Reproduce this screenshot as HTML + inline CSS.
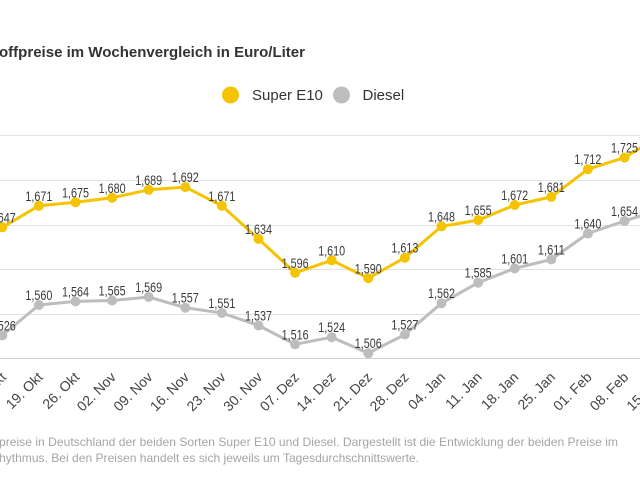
<!DOCTYPE html>
<html>
<head>
<meta charset="utf-8">
<style>
html,body{margin:0;padding:0;background:#fff;}
body{width:640px;height:480px;overflow:hidden;}
svg{display:block;}
text{font-family:"Liberation Sans",sans-serif;}
</style>
</head>
<body>
<svg width="640" height="480" viewBox="0 0 640 480" xmlns="http://www.w3.org/2000/svg">
<rect width="640" height="480" fill="#fff"/>
<!-- title -->
<text x="-1" y="57" font-size="15" font-weight="bold" fill="#333" textLength="306" lengthAdjust="spacingAndGlyphs">offpreise im Wochenvergleich in Euro/Liter</text>
<!-- legend -->
<circle cx="230.5" cy="95" r="8.5" fill="#F5C400"/>
<text x="252" y="100" font-size="15" fill="#333">Super E10</text>
<circle cx="341.5" cy="95" r="8.5" fill="#BDBDBD"/>
<text x="362.5" y="100" font-size="15" fill="#333">Diesel</text>
<!-- gridlines -->
<g stroke="#e2e2e2" stroke-width="1">
<line x1="0" x2="640" y1="135.5" y2="135.5"/>
<line x1="0" x2="640" y1="180.5" y2="180.5"/>
<line x1="0" x2="640" y1="225.5" y2="225.5"/>
<line x1="0" x2="640" y1="269.5" y2="269.5"/>
<line x1="0" x2="640" y1="314.5" y2="314.5"/>
</g>
<line x1="0" x2="640" y1="358.5" y2="358.5" stroke="#d0d0d0" stroke-width="1"/>
<!-- Diesel -->
<polyline fill="none" stroke="#BDBDBD" stroke-width="3" stroke-linejoin="round" points="2.3,335.4 38.9,305.0 75.5,301.4 112.1,300.5 148.7,297.0 185.3,307.7 221.9,313.0 258.5,325.5 295.1,344.3 331.7,337.2 368.3,353.2 404.9,334.5 441.5,303.2 478.1,282.7 514.7,268.4 551.3,259.4 587.9,233.5 624.5,221.0 661.1,209.4"/>
<g fill="#BDBDBD">
<circle cx="2.3" cy="335.4" r="5"/><circle cx="38.9" cy="305.0" r="5"/><circle cx="75.5" cy="301.4" r="5"/><circle cx="112.1" cy="300.5" r="5"/><circle cx="148.7" cy="297.0" r="5"/><circle cx="185.3" cy="307.7" r="5"/><circle cx="221.9" cy="313.0" r="5"/><circle cx="258.5" cy="325.5" r="5"/><circle cx="295.1" cy="344.3" r="5"/><circle cx="331.7" cy="337.2" r="5"/><circle cx="368.3" cy="353.2" r="5"/><circle cx="404.9" cy="334.5" r="5"/><circle cx="441.5" cy="303.2" r="5"/><circle cx="478.1" cy="282.7" r="5"/><circle cx="514.7" cy="268.4" r="5"/><circle cx="551.3" cy="259.4" r="5"/><circle cx="587.9" cy="233.5" r="5"/><circle cx="624.5" cy="221.0" r="5"/>
</g>
<!-- E10 -->
<polyline fill="none" stroke="#F5C400" stroke-width="3" stroke-linejoin="round" points="2.3,227.3 38.9,205.8 75.5,202.3 112.1,197.8 148.7,189.8 185.3,187.1 221.9,205.8 258.5,238.9 295.1,272.8 331.7,260.3 368.3,278.2 404.9,257.7 441.5,226.4 478.1,220.1 514.7,205.0 551.3,196.9 587.9,169.2 624.5,157.6 661.1,135.3"/>
<g fill="#F5C400">
<circle cx="2.3" cy="227.3" r="5"/><circle cx="38.9" cy="205.8" r="5"/><circle cx="75.5" cy="202.3" r="5"/><circle cx="112.1" cy="197.8" r="5"/><circle cx="148.7" cy="189.8" r="5"/><circle cx="185.3" cy="187.1" r="5"/><circle cx="221.9" cy="205.8" r="5"/><circle cx="258.5" cy="238.9" r="5"/><circle cx="295.1" cy="272.8" r="5"/><circle cx="331.7" cy="260.3" r="5"/><circle cx="368.3" cy="278.2" r="5"/><circle cx="404.9" cy="257.7" r="5"/><circle cx="441.5" cy="226.4" r="5"/><circle cx="478.1" cy="220.1" r="5"/><circle cx="514.7" cy="205.0" r="5"/><circle cx="551.3" cy="196.9" r="5"/><circle cx="587.9" cy="169.2" r="5"/><circle cx="624.5" cy="157.6" r="5"/>
</g>
<!-- E10 labels -->
<g font-size="13.5" fill="#3a3a3a" text-anchor="middle">
<text x="2.3" y="222.3" textLength="27" lengthAdjust="spacingAndGlyphs">1,647</text>
<text x="38.9" y="200.8" textLength="27" lengthAdjust="spacingAndGlyphs">1,671</text>
<text x="75.5" y="197.3" textLength="27" lengthAdjust="spacingAndGlyphs">1,675</text>
<text x="112.1" y="192.8" textLength="27" lengthAdjust="spacingAndGlyphs">1,680</text>
<text x="148.7" y="184.8" textLength="27" lengthAdjust="spacingAndGlyphs">1,689</text>
<text x="185.3" y="182.1" textLength="27" lengthAdjust="spacingAndGlyphs">1,692</text>
<text x="221.9" y="200.8" textLength="27" lengthAdjust="spacingAndGlyphs">1,671</text>
<text x="258.5" y="233.9" textLength="27" lengthAdjust="spacingAndGlyphs">1,634</text>
<text x="295.1" y="267.8" textLength="27" lengthAdjust="spacingAndGlyphs">1,596</text>
<text x="331.7" y="255.3" textLength="27" lengthAdjust="spacingAndGlyphs">1,610</text>
<text x="368.3" y="273.7" textLength="27" lengthAdjust="spacingAndGlyphs">1,590</text>
<text x="404.9" y="252.7" textLength="27" lengthAdjust="spacingAndGlyphs">1,613</text>
<text x="441.5" y="221.4" textLength="27" lengthAdjust="spacingAndGlyphs">1,648</text>
<text x="478.1" y="215.1" textLength="27" lengthAdjust="spacingAndGlyphs">1,655</text>
<text x="514.7" y="200.0" textLength="27" lengthAdjust="spacingAndGlyphs">1,672</text>
<text x="551.3" y="191.9" textLength="27" lengthAdjust="spacingAndGlyphs">1,681</text>
<text x="587.9" y="164.2" textLength="27" lengthAdjust="spacingAndGlyphs">1,712</text>
<text x="624.5" y="152.6" textLength="27" lengthAdjust="spacingAndGlyphs">1,725</text>
</g>
<!-- Diesel labels -->
<g font-size="13.5" fill="#3a3a3a" text-anchor="middle">
<text x="2.3" y="330.4" textLength="27" lengthAdjust="spacingAndGlyphs">1,526</text>
<text x="38.9" y="300.0" textLength="27" lengthAdjust="spacingAndGlyphs">1,560</text>
<text x="75.5" y="296.4" textLength="27" lengthAdjust="spacingAndGlyphs">1,564</text>
<text x="112.1" y="295.5" textLength="27" lengthAdjust="spacingAndGlyphs">1,565</text>
<text x="148.7" y="292.0" textLength="27" lengthAdjust="spacingAndGlyphs">1,569</text>
<text x="185.3" y="302.7" textLength="27" lengthAdjust="spacingAndGlyphs">1,557</text>
<text x="221.9" y="308.0" textLength="27" lengthAdjust="spacingAndGlyphs">1,551</text>
<text x="258.5" y="320.5" textLength="27" lengthAdjust="spacingAndGlyphs">1,537</text>
<text x="295.1" y="339.3" textLength="27" lengthAdjust="spacingAndGlyphs">1,516</text>
<text x="331.7" y="332.2" textLength="27" lengthAdjust="spacingAndGlyphs">1,524</text>
<text x="368.3" y="348.2" textLength="27" lengthAdjust="spacingAndGlyphs">1,506</text>
<text x="404.9" y="329.5" textLength="27" lengthAdjust="spacingAndGlyphs">1,527</text>
<text x="441.5" y="298.2" textLength="27" lengthAdjust="spacingAndGlyphs">1,562</text>
<text x="478.1" y="277.7" textLength="27" lengthAdjust="spacingAndGlyphs">1,585</text>
<text x="514.7" y="263.4" textLength="27" lengthAdjust="spacingAndGlyphs">1,601</text>
<text x="551.3" y="254.4" textLength="27" lengthAdjust="spacingAndGlyphs">1,611</text>
<text x="587.9" y="228.5" textLength="27" lengthAdjust="spacingAndGlyphs">1,640</text>
<text x="624.5" y="216.0" textLength="27" lengthAdjust="spacingAndGlyphs">1,654</text>
</g>
<!-- x axis labels -->
<g font-size="14" fill="#444" text-anchor="end">
<text transform="translate(7,378) rotate(-45)">12. Okt</text>
<text transform="translate(43.6,378) rotate(-45)">19. Okt</text>
<text transform="translate(80.2,378) rotate(-45)">26. Okt</text>
<text transform="translate(116.8,378) rotate(-45)">02. Nov</text>
<text transform="translate(153.4,378) rotate(-45)">09. Nov</text>
<text transform="translate(190,378) rotate(-45)">16. Nov</text>
<text transform="translate(226.6,378) rotate(-45)">23. Nov</text>
<text transform="translate(263.2,378) rotate(-45)">30. Nov</text>
<text transform="translate(299.8,378) rotate(-45)">07. Dez</text>
<text transform="translate(336.4,378) rotate(-45)">14. Dez</text>
<text transform="translate(373,378) rotate(-45)">21. Dez</text>
<text transform="translate(409.6,378) rotate(-45)">28. Dez</text>
<text transform="translate(446.2,378) rotate(-45)">04. Jan</text>
<text transform="translate(482.8,378) rotate(-45)">11. Jan</text>
<text transform="translate(519.4,378) rotate(-45)">18. Jan</text>
<text transform="translate(556,378) rotate(-45)">25. Jan</text>
<text transform="translate(592.6,378) rotate(-45)">01. Feb</text>
<text transform="translate(629.2,378) rotate(-45)">08. Feb</text>
<text transform="translate(665.8,378) rotate(-45)">15. Feb</text>
</g>
<!-- footer -->
<text x="-1" y="446" font-size="12" fill="#a5a5a5" textLength="619" lengthAdjust="spacingAndGlyphs">preise in Deutschland der beiden Sorten Super E10 und Diesel. Dargestellt ist die Entwicklung der beiden Preise im</text>
<text x="-1" y="462" font-size="12" fill="#a5a5a5" textLength="420" lengthAdjust="spacingAndGlyphs">hythmus. Bei den Preisen handelt es sich jeweils um Tagesdurchschnittswerte.</text>
</svg>
</body>
</html>
